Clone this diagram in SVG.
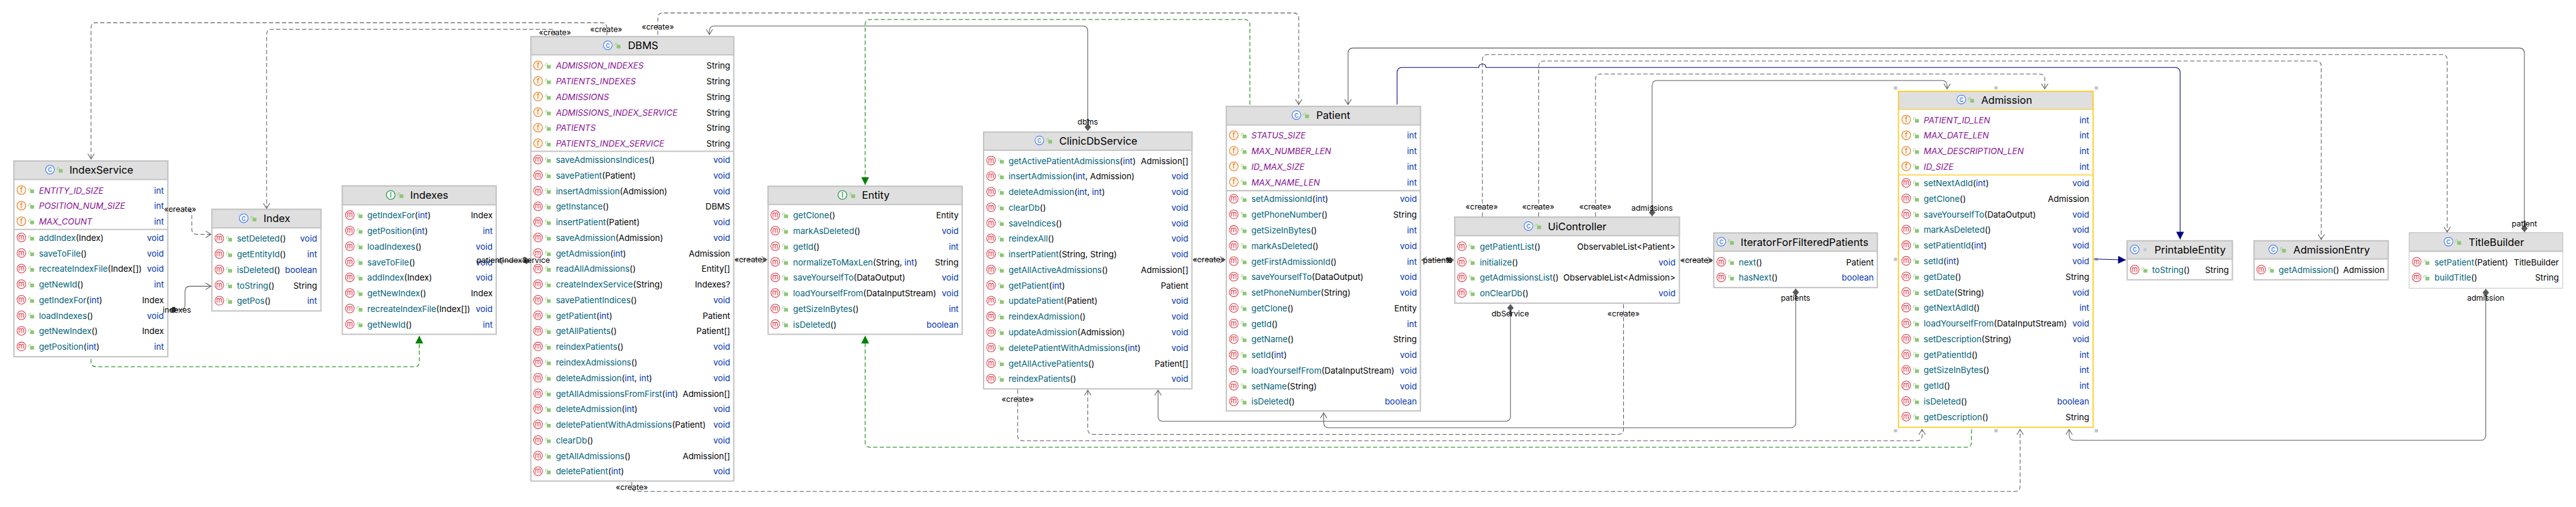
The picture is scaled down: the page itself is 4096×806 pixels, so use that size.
<svg xmlns="http://www.w3.org/2000/svg" width="4096" height="806" viewBox="0 0 4096 806">
<style>
text{font-family:Inter,"Liberation Sans",sans-serif;font-size:26px;fill:#000}
.t{font-size:32px}
.n{fill:#00627a}
.k{fill:#0033b3}
.f{fill:#871094;font-style:italic}
.r{text-anchor:end}
.l{font-size:24px;text-anchor:middle}
.b{fill:#fff;stroke:#c4c4c4;stroke-width:4}
.h{fill:#dfdfdf;stroke:#c4c4c4;stroke-width:4}
.ba{fill:#fff;stroke:#ffc700;stroke-width:3}
.ha{fill:#dfdfdf;stroke:#ffc700;stroke-width:2}
.s{stroke:#c4c4c4;stroke-width:4;fill:none}
.sa{stroke:#ffc700;stroke-width:2;fill:none}
.hd{fill:#c4c4c4}
.c{fill:none;stroke:#595959;stroke-width:2}
.d{stroke-dasharray:13 7}
.g{stroke:#008000}
.u{stroke:#000080}
.ic{font-size:22px;text-anchor:middle}
</style>
<defs>
<marker id="oa" markerUnits="userSpaceOnUse" orient="auto" markerWidth="40" markerHeight="40" refX="20" refY="20" viewBox="0 0 40 40" overflow="visible"><path d="M4 10L20 20L4 30" fill="none" stroke="#595959" stroke-width="2" stroke-dasharray="none"/></marker>
<marker id="di" markerUnits="userSpaceOnUse" orient="auto" markerWidth="30" markerHeight="30" refX="1" refY="15" viewBox="0 0 30 30" overflow="visible"><path d="M1 15L12.500 5L24 15L12.500 25Z" fill="#595959"/></marker>
<marker id="ga" markerUnits="userSpaceOnUse" orient="auto" markerWidth="30" markerHeight="30" refX="26" refY="15" viewBox="0 0 30 30" overflow="visible"><path d="M2 3L26 15L2 27Z" fill="#008000"/></marker>
<marker id="ua" markerUnits="userSpaceOnUse" orient="auto" markerWidth="30" markerHeight="30" refX="26" refY="15" viewBox="0 0 30 30" overflow="visible"><path d="M2 3L26 15L2 27Z" fill="#000080"/></marker>
<g id="L"><path d="M-8.500 1V-5A3 3 0 0 1-2.500-5V-1" fill="none" stroke="#8cc774" stroke-width="1.500"/><rect x="-4" y="-3" width="12" height="11" fill="#8cc774"/></g>
<g id="M"><circle cy="-1.500" r="13.500" fill="#fff5f5" stroke="#db3b4b" stroke-width="2"/><text class="ic" y="5" fill="#db3b4b" style="fill:#db3b4b">m</text><use href="#L" x="31"/></g>
<g id="F"><circle cy="-1.500" r="13.500" fill="#fff6ee" stroke="#e8730c" stroke-width="2"/><text class="ic" y="6" style="fill:#e8730c">f</text><use href="#L" x="31"/></g>
<g id="C"><circle cy="-1.500" r="13.500" fill="#f3f7ff" stroke="#3574f0" stroke-width="2"/><text class="ic" y="6" style="fill:#3574f0">c</text><use href="#L" x="31"/></g>
<g id="I"><circle cy="-1.500" r="13.500" fill="#f2fbf4" stroke="#0f8a3e" stroke-width="2"/><text class="ic" y="6" style="fill:#0f8a3e">I</text><use href="#L" x="31"/></g>
</defs>
<rect width="4096" height="806" fill="#fff"/>
<g transform="scale(0.516)">

<g id="IndexService" transform="translate(41 0)">
<rect class="b" x="2" y="496" width="474" height="603"/><rect class="h" x="2" y="496" width="474" height="57"/><path class="s" d="M2 707H476"/>
<use href="#C" x="113" y="524"/><text class="t" x="173" y="535">IndexService</text>
<use href="#F" x="25" y="587"/><text class="f" x="79" y="596">ENTITY_ID_SIZE</text><text class="r k" x="464" y="596">int</text>
<use href="#F" x="25" y="635"/><text class="f" x="79" y="644">POSITION_NUM_SIZE</text><text class="r k" x="464" y="644">int</text>
<use href="#F" x="25" y="683"/><text class="f" x="79" y="692">MAX_COUNT</text><text class="r k" x="464" y="692">int</text>
<use href="#M" x="25" y="733"/><text x="79" y="742"><tspan class="n">addIndex</tspan>(Index)</text><text class="r k" x="464" y="742">void</text>
<use href="#M" x="25" y="781"/><text x="79" y="790"><tspan class="n">saveToFile</tspan>()</text><text class="r k" x="464" y="790">void</text>
<use href="#M" x="25" y="829"/><text x="79" y="838"><tspan class="n">recreateIndexFile</tspan>(Index[])</text><text class="r k" x="464" y="838">void</text>
<use href="#M" x="25" y="877"/><text x="79" y="886"><tspan class="n">getNewId</tspan>()</text><text class="r k" x="464" y="886">int</text>
<use href="#M" x="25" y="925"/><text x="79" y="934"><tspan class="n">getIndexFor</tspan>(<tspan class="k">int</tspan>)</text><text class="r" x="464" y="934">Index</text>
<use href="#M" x="25" y="973"/><text x="79" y="982"><tspan class="n">loadIndexes</tspan>()</text><text class="r k" x="464" y="982">void</text>
<use href="#M" x="25" y="1021"/><text x="79" y="1030"><tspan class="n">getNewIndex</tspan>()</text><text class="r" x="464" y="1030">Index</text>
<use href="#M" x="25" y="1069"/><text x="79" y="1078"><tspan class="n">getPosition</tspan>(<tspan class="k">int</tspan>)</text><text class="r k" x="464" y="1078">int</text>
</g>

<g id="Index" transform="translate(651 0)">
<rect class="b" x="2" y="645" width="336" height="313"/><rect class="h" x="2" y="645" width="336" height="57"/>
<use href="#C" x="100" y="674"/><text class="t" x="161" y="685">Index</text>
<use href="#M" x="25" y="736"/><text x="79" y="745"><tspan class="n">setDeleted</tspan>()</text><text class="r k" x="326" y="745">void</text>
<use href="#M" x="25" y="784"/><text x="79" y="793"><tspan class="n">getEntityId</tspan>()</text><text class="r k" x="326" y="793">int</text>
<use href="#M" x="25" y="832"/><text x="79" y="841"><tspan class="n">isDeleted</tspan>()</text><text class="r k" x="326" y="841">boolean</text>
<use href="#M" x="25" y="880"/><text x="79" y="889"><tspan class="n">toString</tspan>()</text><text class="r" x="326" y="889">String</text>
<use href="#M" x="25" y="928"/><text x="79" y="937"><tspan class="n">getPos</tspan>()</text><text class="r k" x="326" y="937">int</text>
</g>

<g id="Indexes" transform="translate(1053 0)">
<rect class="b" x="2" y="573" width="474" height="457"/><rect class="h" x="2" y="573" width="474" height="58"/>
<use href="#I" x="151" y="602"/><text class="t" x="211" y="613">Indexes</text>
<use href="#M" x="25" y="664"/><text x="79" y="673"><tspan class="n">getIndexFor</tspan>(<tspan class="k">int</tspan>)</text><text class="r" x="465" y="673">Index</text>
<use href="#M" x="25" y="712"/><text x="79" y="721"><tspan class="n">getPosition</tspan>(<tspan class="k">int</tspan>)</text><text class="r k" x="465" y="721">int</text>
<use href="#M" x="25" y="760"/><text x="79" y="769"><tspan class="n">loadIndexes</tspan>()</text><text class="r k" x="465" y="769">void</text>
<use href="#M" x="25" y="808"/><text x="79" y="817"><tspan class="n">saveToFile</tspan>()</text><text class="r k" x="465" y="817">void</text>
<use href="#M" x="25" y="856"/><text x="79" y="865"><tspan class="n">addIndex</tspan>(Index)</text><text class="r k" x="465" y="865">void</text>
<use href="#M" x="25" y="904"/><text x="79" y="913"><tspan class="n">getNewIndex</tspan>()</text><text class="r" x="465" y="913">Index</text>
<use href="#M" x="25" y="952"/><text x="79" y="961"><tspan class="n">recreateIndexFile</tspan>(Index[])</text><text class="r k" x="465" y="961">void</text>
<use href="#M" x="25" y="1000"/><text x="79" y="1009"><tspan class="n">getNewId</tspan>()</text><text class="r k" x="465" y="1009">int</text>
</g>

<g id="DBMS" transform="translate(1634 0)">
<rect class="b" x="2" y="113" width="625" height="1369"/><rect class="h" x="2" y="113" width="625" height="56"/><path class="s" d="M2 466H627"/>
<use href="#C" x="239" y="141"/><text class="t" x="301" y="152">DBMS</text>
<use href="#F" x="24" y="203"/><text class="f" x="79" y="212">ADMISSION_INDEXES</text><text class="r" x="616" y="212">String</text>
<use href="#F" x="24" y="251"/><text class="f" x="79" y="260">PATIENTS_INDEXES</text><text class="r" x="616" y="260">String</text>
<use href="#F" x="24" y="299"/><text class="f" x="79" y="308">ADMISSIONS</text><text class="r" x="616" y="308">String</text>
<use href="#F" x="24" y="347"/><text class="f" x="79" y="356">ADMISSIONS_INDEX_SERVICE</text><text class="r" x="616" y="356">String</text>
<use href="#F" x="24" y="395"/><text class="f" x="79" y="404">PATIENTS</text><text class="r" x="616" y="404">String</text>
<use href="#F" x="24" y="443"/><text class="f" x="79" y="452">PATIENTS_INDEX_SERVICE</text><text class="r" x="616" y="452">String</text>
<use href="#M" x="24" y="493"/><text x="79" y="502"><tspan class="n">saveAdmissionsIndices</tspan>()</text><text class="r k" x="616" y="502">void</text>
<use href="#M" x="24" y="541"/><text x="79" y="550"><tspan class="n">savePatient</tspan>(Patient)</text><text class="r k" x="616" y="550">void</text>
<use href="#M" x="24" y="589"/><text x="79" y="598"><tspan class="n">insertAdmission</tspan>(Admission)</text><text class="r k" x="616" y="598">void</text>
<use href="#M" x="24" y="637"/><text x="79" y="646"><tspan class="n">getInstance</tspan>()</text><text class="r" x="616" y="646">DBMS</text>
<use href="#M" x="24" y="685"/><text x="79" y="694"><tspan class="n">insertPatient</tspan>(Patient)</text><text class="r k" x="616" y="694">void</text>
<use href="#M" x="24" y="733"/><text x="79" y="742"><tspan class="n">saveAdmission</tspan>(Admission)</text><text class="r k" x="616" y="742">void</text>
<use href="#M" x="24" y="781"/><text x="79" y="790"><tspan class="n">getAdmission</tspan>(<tspan class="k">int</tspan>)</text><text class="r" x="616" y="790">Admission</text>
<use href="#M" x="24" y="829"/><text x="79" y="838"><tspan class="n">readAllAdmissions</tspan>()</text><text class="r" x="616" y="838">Entity[]</text>
<use href="#M" x="24" y="877"/><text x="79" y="886"><tspan class="n">createIndexService</tspan>(String)</text><text class="r" x="616" y="886">Indexes?</text>
<use href="#M" x="24" y="925"/><text x="79" y="934"><tspan class="n">savePatientIndices</tspan>()</text><text class="r k" x="616" y="934">void</text>
<use href="#M" x="24" y="973"/><text x="79" y="982"><tspan class="n">getPatient</tspan>(<tspan class="k">int</tspan>)</text><text class="r" x="616" y="982">Patient</text>
<use href="#M" x="24" y="1021"/><text x="79" y="1030"><tspan class="n">getAllPatients</tspan>()</text><text class="r" x="616" y="1030">Patient[]</text>
<use href="#M" x="24" y="1069"/><text x="79" y="1078"><tspan class="n">reindexPatients</tspan>()</text><text class="r k" x="616" y="1078">void</text>
<use href="#M" x="24" y="1117"/><text x="79" y="1126"><tspan class="n">reindexAdmissions</tspan>()</text><text class="r k" x="616" y="1126">void</text>
<use href="#M" x="24" y="1165"/><text x="79" y="1174"><tspan class="n">deleteAdmission</tspan>(<tspan class="k">int</tspan>, <tspan class="k">int</tspan>)</text><text class="r k" x="616" y="1174">void</text>
<use href="#M" x="24" y="1213"/><text x="79" y="1222"><tspan class="n">getAllAdmissionsFromFirst</tspan>(<tspan class="k">int</tspan>)</text><text class="r" x="616" y="1222">Admission[]</text>
<use href="#M" x="24" y="1261"/><text x="79" y="1270"><tspan class="n">deleteAdmission</tspan>(<tspan class="k">int</tspan>)</text><text class="r k" x="616" y="1270">void</text>
<use href="#M" x="24" y="1309"/><text x="79" y="1318"><tspan class="n">deletePatientWithAdmissions</tspan>(Patient)</text><text class="r k" x="616" y="1318">void</text>
<use href="#M" x="24" y="1357"/><text x="79" y="1366"><tspan class="n">clearDb</tspan>()</text><text class="r k" x="616" y="1366">void</text>
<use href="#M" x="24" y="1405"/><text x="79" y="1414"><tspan class="n">getAllAdmissions</tspan>()</text><text class="r" x="616" y="1414">Admission[]</text>
<use href="#M" x="24" y="1453"/><text x="79" y="1462"><tspan class="n">deletePatient</tspan>(<tspan class="k">int</tspan>)</text><text class="r k" x="616" y="1462">void</text>
</g>

<g id="Entity" transform="translate(2365 0)">
<rect class="b" x="2" y="574" width="598" height="456"/><rect class="h" x="2" y="574" width="598" height="56"/>
<use href="#I" x="231" y="602"/><text class="t" x="291" y="613">Entity</text>
<use href="#M" x="24" y="664"/><text x="79" y="673"><tspan class="n">getClone</tspan>()</text><text class="r" x="589" y="673">Entity</text>
<use href="#M" x="24" y="712"/><text x="79" y="721"><tspan class="n">markAsDeleted</tspan>()</text><text class="r k" x="589" y="721">void</text>
<use href="#M" x="24" y="760"/><text x="79" y="769"><tspan class="n">getId</tspan>()</text><text class="r k" x="589" y="769">int</text>
<use href="#M" x="24" y="808"/><text x="79" y="817"><tspan class="n">normalizeToMaxLen</tspan>(String, <tspan class="k">int</tspan>)</text><text class="r" x="589" y="817">String</text>
<use href="#M" x="24" y="856"/><text x="79" y="865"><tspan class="n">saveYourselfTo</tspan>(DataOutput)</text><text class="r k" x="589" y="865">void</text>
<use href="#M" x="24" y="904"/><text x="79" y="913"><tspan class="n">loadYourselfFrom</tspan>(DataInputStream)</text><text class="r k" x="589" y="913">void</text>
<use href="#M" x="24" y="952"/><text x="79" y="961"><tspan class="n">getSizeInBytes</tspan>()</text><text class="r k" x="589" y="961">int</text>
<use href="#M" x="24" y="1000"/><text x="79" y="1009"><tspan class="n">isDeleted</tspan>()</text><text class="r k" x="589" y="1009">boolean</text>
</g>

<g id="ClinicDbService" transform="translate(3029 0)">
<rect class="b" x="2" y="407" width="642" height="791"/><rect class="h" x="2" y="407" width="642" height="56"/>
<use href="#C" x="174" y="434"/><text class="t" x="235" y="445">ClinicDbService</text>
<use href="#M" x="25" y="496"/><text x="79" y="505"><tspan class="n">getActivePatientAdmissions</tspan>(<tspan class="k">int</tspan>)</text><text class="r" x="633" y="505">Admission[]</text>
<use href="#M" x="25" y="544"/><text x="79" y="553"><tspan class="n">insertAdmission</tspan>(<tspan class="k">int</tspan>, Admission)</text><text class="r k" x="633" y="553">void</text>
<use href="#M" x="25" y="592"/><text x="79" y="601"><tspan class="n">deleteAdmission</tspan>(<tspan class="k">int</tspan>, <tspan class="k">int</tspan>)</text><text class="r k" x="633" y="601">void</text>
<use href="#M" x="25" y="640"/><text x="79" y="649"><tspan class="n">clearDb</tspan>()</text><text class="r k" x="633" y="649">void</text>
<use href="#M" x="25" y="688"/><text x="79" y="697"><tspan class="n">saveIndices</tspan>()</text><text class="r k" x="633" y="697">void</text>
<use href="#M" x="25" y="736"/><text x="79" y="745"><tspan class="n">reindexAll</tspan>()</text><text class="r k" x="633" y="745">void</text>
<use href="#M" x="25" y="784"/><text x="79" y="793"><tspan class="n">insertPatient</tspan>(String, String)</text><text class="r k" x="633" y="793">void</text>
<use href="#M" x="25" y="832"/><text x="79" y="841"><tspan class="n">getAllActiveAdmissions</tspan>()</text><text class="r" x="633" y="841">Admission[]</text>
<use href="#M" x="25" y="880"/><text x="79" y="889"><tspan class="n">getPatient</tspan>(<tspan class="k">int</tspan>)</text><text class="r" x="633" y="889">Patient</text>
<use href="#M" x="25" y="928"/><text x="79" y="937"><tspan class="n">updatePatient</tspan>(Patient)</text><text class="r k" x="633" y="937">void</text>
<use href="#M" x="25" y="976"/><text x="79" y="985"><tspan class="n">reindexAdmission</tspan>()</text><text class="r k" x="633" y="985">void</text>
<use href="#M" x="25" y="1024"/><text x="79" y="1033"><tspan class="n">updateAdmission</tspan>(Admission)</text><text class="r k" x="633" y="1033">void</text>
<use href="#M" x="25" y="1072"/><text x="79" y="1081"><tspan class="n">deletePatientWithAdmissions</tspan>(<tspan class="k">int</tspan>)</text><text class="r k" x="633" y="1081">void</text>
<use href="#M" x="25" y="1120"/><text x="79" y="1129"><tspan class="n">getAllActivePatients</tspan>()</text><text class="r" x="633" y="1129">Patient[]</text>
<use href="#M" x="25" y="1168"/><text x="79" y="1177"><tspan class="n">reindexPatients</tspan>()</text><text class="r k" x="633" y="1177">void</text>
</g>

<g id="Patient" transform="translate(3777 0)">
<rect class="b" x="2" y="328" width="598" height="938"/><rect class="h" x="2" y="328" width="598" height="57"/><path class="s" d="M2 587.500H600"/>
<use href="#C" x="218" y="356"/><text class="t" x="279" y="367">Patient</text>
<use href="#F" x="25" y="418"/><text class="f" x="79" y="427">STATUS_SIZE</text><text class="r k" x="589" y="427">int</text>
<use href="#F" x="25" y="466"/><text class="f" x="79" y="475">MAX_NUMBER_LEN</text><text class="r k" x="589" y="475">int</text>
<use href="#F" x="25" y="514"/><text class="f" x="79" y="523">ID_MAX_SIZE</text><text class="r k" x="589" y="523">int</text>
<use href="#F" x="25" y="562"/><text class="f" x="79" y="571">MAX_NAME_LEN</text><text class="r k" x="589" y="571">int</text>
<use href="#M" x="25" y="614"/><text x="79" y="623"><tspan class="n">setAdmissionId</tspan>(<tspan class="k">int</tspan>)</text><text class="r k" x="589" y="623">void</text>
<use href="#M" x="25" y="662"/><text x="79" y="671"><tspan class="n">getPhoneNumber</tspan>()</text><text class="r" x="589" y="671">String</text>
<use href="#M" x="25" y="710"/><text x="79" y="719"><tspan class="n">getSizeInBytes</tspan>()</text><text class="r k" x="589" y="719">int</text>
<use href="#M" x="25" y="758"/><text x="79" y="767"><tspan class="n">markAsDeleted</tspan>()</text><text class="r k" x="589" y="767">void</text>
<use href="#M" x="25" y="806"/><text x="79" y="815"><tspan class="n">getFirstAdmissionId</tspan>()</text><text class="r k" x="589" y="815">int</text>
<use href="#M" x="25" y="854"/><text x="79" y="863"><tspan class="n">saveYourselfTo</tspan>(DataOutput)</text><text class="r k" x="589" y="863">void</text>
<use href="#M" x="25" y="902"/><text x="79" y="911"><tspan class="n">setPhoneNumber</tspan>(String)</text><text class="r k" x="589" y="911">void</text>
<use href="#M" x="25" y="950"/><text x="79" y="959"><tspan class="n">getClone</tspan>()</text><text class="r" x="589" y="959">Entity</text>
<use href="#M" x="25" y="998"/><text x="79" y="1007"><tspan class="n">getId</tspan>()</text><text class="r k" x="589" y="1007">int</text>
<use href="#M" x="25" y="1046"/><text x="79" y="1055"><tspan class="n">getName</tspan>()</text><text class="r" x="589" y="1055">String</text>
<use href="#M" x="25" y="1094"/><text x="79" y="1103"><tspan class="n">setId</tspan>(<tspan class="k">int</tspan>)</text><text class="r k" x="589" y="1103">void</text>
<use href="#M" x="25" y="1142"/><text x="79" y="1151"><tspan class="n">loadYourselfFrom</tspan>(DataInputStream)</text><text class="r k" x="589" y="1151">void</text>
<use href="#M" x="25" y="1190"/><text x="79" y="1199"><tspan class="n">setName</tspan>(String)</text><text class="r k" x="589" y="1199">void</text>
<use href="#M" x="25" y="1238"/><text x="79" y="1247"><tspan class="n">isDeleted</tspan>()</text><text class="r k" x="589" y="1247">boolean</text>
</g>

<g id="UiController" transform="translate(4481 0)">
<rect class="b" x="2" y="669" width="692" height="265"/><rect class="h" x="2" y="669" width="692" height="57"/>
<use href="#C" x="229" y="698"/><text class="t" x="289" y="709">UiController</text>
<use href="#M" x="24" y="760"/><text x="79" y="769"><tspan class="n">getPatientList</tspan>()</text><text class="r" x="682" y="769">ObservableList&lt;Patient&gt;</text>
<use href="#M" x="24" y="808"/><text x="79" y="817"><tspan class="n">initialize</tspan>()</text><text class="r k" x="682" y="817">void</text>
<use href="#M" x="24" y="856"/><text x="79" y="865"><tspan class="n">getAdmissionsList</tspan>()</text><text class="r" x="682" y="865">ObservableList&lt;Admission&gt;</text>
<use href="#M" x="24" y="904"/><text x="79" y="913"><tspan class="n">onClearDb</tspan>()</text><text class="r k" x="682" y="913">void</text>
</g>

<g id="IteratorForFilteredPatients" transform="translate(5279 0)">
<rect class="b" x="2" y="718" width="504" height="168"/><rect class="h" x="2" y="718" width="504" height="56"/>
<use href="#C" x="25" y="746"/><text class="t" x="85" y="757">IteratorForFilteredPatients</text>
<use href="#M" x="25" y="808"/><text x="79" y="817"><tspan class="n">next</tspan>()</text><text class="r" x="495" y="817">Patient</text>
<use href="#M" x="25" y="856"/><text x="79" y="865"><tspan class="n">hasNext</tspan>()</text><text class="r k" x="495" y="865">boolean</text>
</g>

<g id="Admission" transform="translate(5849 0)">
<rect class="ba" x="1" y="281.500" width="600" height="1035"/><rect class="ha" x="1.500" y="282" width="599" height="55"/><path class="sa" d="M1 539H601"/>
<use href="#C" x="195" y="308"/><text class="t" x="256" y="319">Admission</text>
<use href="#F" x="25" y="370"/><text class="f" x="79" y="379">PATIENT_ID_LEN</text><text class="r k" x="589" y="379">int</text>
<use href="#F" x="25" y="418"/><text class="f" x="79" y="427">MAX_DATE_LEN</text><text class="r k" x="589" y="427">int</text>
<use href="#F" x="25" y="466"/><text class="f" x="79" y="475">MAX_DESCRIPTION_LEN</text><text class="r k" x="589" y="475">int</text>
<use href="#F" x="25" y="514"/><text class="f" x="79" y="523">ID_SIZE</text><text class="r k" x="589" y="523">int</text>
<use href="#M" x="25" y="565"/><text x="79" y="574"><tspan class="n">setNextAdId</tspan>(<tspan class="k">int</tspan>)</text><text class="r k" x="589" y="574">void</text>
<use href="#M" x="25" y="613"/><text x="79" y="622"><tspan class="n">getClone</tspan>()</text><text class="r" x="589" y="622">Admission</text>
<use href="#M" x="25" y="661"/><text x="79" y="670"><tspan class="n">saveYourselfTo</tspan>(DataOutput)</text><text class="r k" x="589" y="670">void</text>
<use href="#M" x="25" y="709"/><text x="79" y="718"><tspan class="n">markAsDeleted</tspan>()</text><text class="r k" x="589" y="718">void</text>
<use href="#M" x="25" y="757"/><text x="79" y="766"><tspan class="n">setPatientId</tspan>(<tspan class="k">int</tspan>)</text><text class="r k" x="589" y="766">void</text>
<use href="#M" x="25" y="805"/><text x="79" y="814"><tspan class="n">setId</tspan>(<tspan class="k">int</tspan>)</text><text class="r k" x="589" y="814">void</text>
<use href="#M" x="25" y="853"/><text x="79" y="862"><tspan class="n">getDate</tspan>()</text><text class="r" x="589" y="862">String</text>
<use href="#M" x="25" y="901"/><text x="79" y="910"><tspan class="n">setDate</tspan>(String)</text><text class="r k" x="589" y="910">void</text>
<use href="#M" x="25" y="949"/><text x="79" y="958"><tspan class="n">getNextAdId</tspan>()</text><text class="r k" x="589" y="958">int</text>
<use href="#M" x="25" y="997"/><text x="79" y="1006"><tspan class="n">loadYourselfFrom</tspan>(DataInputStream)</text><text class="r k" x="589" y="1006">void</text>
<use href="#M" x="25" y="1045"/><text x="79" y="1054"><tspan class="n">setDescription</tspan>(String)</text><text class="r k" x="589" y="1054">void</text>
<use href="#M" x="25" y="1093"/><text x="79" y="1102"><tspan class="n">getPatientId</tspan>()</text><text class="r k" x="589" y="1102">int</text>
<use href="#M" x="25" y="1141"/><text x="79" y="1150"><tspan class="n">getSizeInBytes</tspan>()</text><text class="r k" x="589" y="1150">int</text>
<use href="#M" x="25" y="1189"/><text x="79" y="1198"><tspan class="n">getId</tspan>()</text><text class="r k" x="589" y="1198">int</text>
<use href="#M" x="25" y="1237"/><text x="79" y="1246"><tspan class="n">isDeleted</tspan>()</text><text class="r k" x="589" y="1246">boolean</text>
<use href="#M" x="25" y="1285"/><text x="79" y="1294"><tspan class="n">getDescription</tspan>()</text><text class="r" x="589" y="1294">String</text>
<rect class="hd" x="-13" y="266" width="10" height="10"/><rect class="hd" x="297" y="266" width="10" height="10"/><rect class="hd" x="606" y="266" width="10" height="10"/>
<rect class="hd" x="-13" y="794" width="10" height="10"/><rect class="hd" x="606" y="794" width="10" height="10"/>
<rect class="hd" x="-13" y="1322" width="10" height="10"/><rect class="hd" x="297" y="1322" width="10" height="10"/><rect class="hd" x="606" y="1322" width="10" height="10"/>
</g>

<g id="PrintableEntity" transform="translate(6553 0)">
<rect class="b" x="2" y="742" width="324" height="120"/><rect class="h" x="2" y="742" width="324" height="56"/>
<circle cx="25" cy="768.500" r="13.500" fill="#f3f7ff" stroke="#3574f0" stroke-width="2"/><text class="ic" x="25" y="776" style="fill:#3574f0">c</text><circle cx="57" cy="769" r="3.500" fill="none" stroke="#a8b4c4" stroke-width="2"/>
<text class="t" x="86" y="781">PrintableEntity</text>
<use href="#M" x="25" y="832"/><text x="79" y="841"><tspan class="n">toString</tspan>()</text><text class="r" x="315" y="841">String</text>
</g>

<g id="AdmissionEntry" transform="translate(6944 0)">
<rect class="b" x="2" y="742" width="413" height="120"/><rect class="h" x="2" y="742" width="413" height="56"/>
<use href="#C" x="61" y="770"/><text class="t" x="123" y="781">AdmissionEntry</text>
<use href="#M" x="24" y="832"/><text x="78" y="841"><tspan class="n">getAdmission</tspan>()</text><text class="r" x="404" y="841">Admission</text>
</g>

<g id="TitleBuilder" transform="translate(7423 0)">
<rect class="b" x="1" y="717" width="473" height="171" style="stroke-width:2"/><rect class="h" x="1" y="717" width="473" height="57" style="stroke-width:2"/><path class="s" d="M1 774H474"/>
<use href="#C" x="122" y="746"/><text class="t" x="184" y="757">TitleBuilder</text>
<use href="#M" x="24" y="808"/><text x="79" y="817"><tspan class="n">setPatient</tspan>(Patient)</text><text class="r" x="462" y="817">TitleBuilder</text>
<use href="#M" x="24" y="856"/><text x="79" y="865"><tspan class="n">buildTitle</tspan>()</text><text class="r" x="462" y="865">String</text>
</g>

<g id="connectors">
<path id="c1" class="c d" marker-end="url(#oa)" d="M1870 108V86Q1870 70 1854 70H296Q280.600 70 280.600 86V490"/>
<path id="c2" class="c d" marker-end="url(#oa)" d="M1710 108V100Q1710 90 1700 90H837Q821.500 90 821.500 106V642"/>
<path id="c3" class="c d" marker-end="url(#oa)" d="M2027 107V56Q2027 40 2043 40H3986Q4002 40 4002 56V322"/>
<path id="c4" class="c" marker-start="url(#di)" marker-end="url(#oa)" d="M3352 403V96Q3352 80 3336 80H2202Q2186 80 2186 96V106"/>
<path id="c5" class="c d g" marker-end="url(#ga)" d="M3851.500 322V76Q3851.500 60 3835 60H2682Q2666 60 2666 76V570"/>
<path id="c6" class="c" marker-start="url(#di)" marker-end="url(#oa)" d="M7779 715V164Q7779 148 7763 148H4170Q4154 148 4154 164V322"/>
<path id="c7" class="c d" marker-end="url(#oa)" d="M4568 667V184Q4568 168 4584 168H7525Q7541 168 7541 184V715"/>
<path id="c8" class="c d" marker-end="url(#oa)" d="M4741.500 667V204Q4741.500 188 4757.500 188H7137Q7153 188 7153 204V738"/>
<path id="c9" class="c u" marker-end="url(#ua)" d="M4305 322V224Q4305 208 4321 208H4557Q4557 197 4568 197Q4579 197 4579 208H6702Q6718 208 6718 224V738"/>
<path id="c10" class="c d" marker-end="url(#oa)" d="M4916.600 667V244Q4916.600 228 4932.600 228H6285Q6301 228 6301 244V274"/>
<path id="c11" class="c" marker-start="url(#di)" marker-end="url(#oa)" d="M5091 666V264Q5091 248 5107 248H5984Q6000 248 6000 264V274"/>
<path id="c12" class="c" marker-start="url(#di)" marker-end="url(#oa)" d="M4654.500 937V1282Q4654.500 1298 4638 1298H3584Q3568.500 1298 3568.500 1282V1202"/>
<path id="c13" class="c d" marker-end="url(#oa)" d="M5003 937V1322Q5003 1338 4987 1338H3368Q3352 1338 3352 1322V1202"/>
<path id="c14" class="c d" marker-end="url(#oa)" d="M3136 1200V1342Q3136 1358 3152 1358H5907Q5923 1358 5923 1342V1323"/>
<path id="c15" class="c" marker-start="url(#di)" marker-end="url(#oa)" d="M5533.600 889V1302Q5533.600 1318 5517 1318H4095Q4079 1318 4079 1302V1272"/>
<path id="c16" class="c d g" marker-end="url(#ga)" d="M6075 1323V1362Q6075 1378 6059 1378H2682Q2666 1378 2666 1362V1034"/>
<path id="c17" class="c d" marker-end="url(#oa)" d="M1947 1485V1498Q1947 1514 1963 1514H6209Q6225 1514 6225 1498V1323"/>
<path id="c18" class="c" marker-start="url(#di)" marker-end="url(#oa)" d="M7660 890V1340Q7660 1356.500 7644 1356.500H6392Q6376 1356.500 6376 1340V1323"/>
<path id="c19" class="c d g" marker-end="url(#ga)" d="M280.600 1106V1114Q280.600 1130 296 1130H1276Q1292 1130 1292 1114V1034"/>
<path id="c20" class="c d" marker-end="url(#oa)" d="M521 646H575Q591 646 591 662V706Q591 722 607 722H650"/>
<path id="c21" class="c" marker-start="url(#di)" marker-end="url(#oa)" d="M522 955H554Q570 955 570 939V898Q570 882 586 882H650"/>
<path id="c22" class="c" marker-start="url(#di)" marker-end="url(#oa)" d="M1634 804H1533"/>
<path id="c23" class="c d" marker-end="url(#oa)" d="M2264 800H2363"/>
<path id="c24" class="c d" marker-end="url(#oa)" d="M3676 800H3775"/>
<path id="c25" class="c" marker-start="url(#di)" marker-end="url(#oa)" d="M4480 801H4381"/>
<path id="c26" class="c d" marker-end="url(#oa)" d="M5178 802H5277"/>
<path id="c27" class="c u" marker-end="url(#ua)" d="M6452 798L6551 801"/>
<text class="l" x="1710" y="109">«create»</text>
<text class="l" x="1868" y="99">«create»</text>
<text class="l" x="2027" y="91">«create»</text>
<text class="l" x="555" y="654">«create»</text>
<text class="l" x="545" y="964">indexes</text><text class="l" x="537" y="964">1</text>
<text class="l" x="1582" y="811">patientIndexService</text><text class="l" x="1616" y="811">1</text>
<text class="l" x="2313" y="808">«create»</text>
<text class="l" x="3725" y="808">«create»</text>
<text class="l" x="1947" y="1510">«create»</text>
<text class="l" x="3352" y="384">dbms</text><text class="l" x="3352" y="384">1</text>
<text class="l" x="3136" y="1238">«create»</text>
<text class="l" x="4430" y="810">patients</text><text class="l" x="4461" y="810">1</text>
<text class="l" x="4566" y="646">«create»</text>
<text class="l" x="4740" y="646">«create»</text>
<text class="l" x="4916" y="646">«create»</text>
<text class="l" x="5091" y="649">admissions</text><text class="l" x="5091" y="649">1</text>
<text class="l" x="4654" y="975">dbService</text><text class="l" x="4654" y="975">1</text>
<text class="l" x="5003" y="975">«create»</text>
<text class="l" x="5228" y="810">«create»</text>
<text class="l" x="5533" y="927">patients</text><text class="l" x="5533" y="927">1</text>
<text class="l" x="7660" y="927">admission</text><text class="l" x="7660" y="927">1</text>
<text class="l" x="7779" y="697">patient</text><text class="l" x="7779" y="697">1</text>
</g>
</g>
</svg>
